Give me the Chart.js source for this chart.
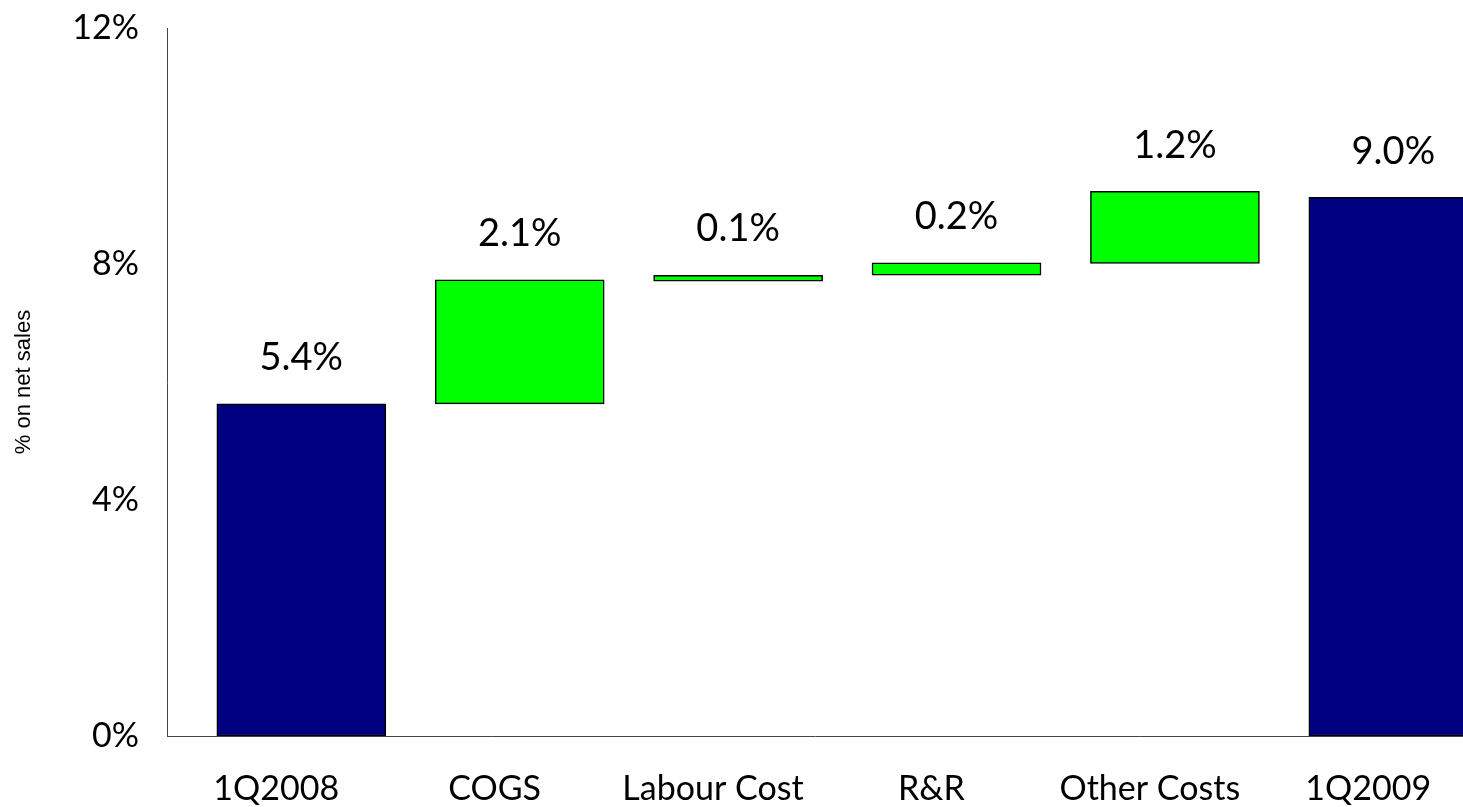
<!DOCTYPE html>
<html><head><meta charset="utf-8">
<script src="https://cdn.jsdelivr.net/npm/chart.js@4/dist/chart.umd.min.js"></script>
<style>html,body{margin:0;padding:0;background:#fff}</style>
</head><body>
<canvas id="c" width="1463" height="807"></canvas>
<script>
const categories = ['1Q2008', 'COGS', 'Labour Cost', 'R&R', 'Other Costs', '1Q2009'];
const barBase = [0, 5.63, 7.71, 7.81, 8.01, 0];
const barTop = [5.63, 7.73, 7.81, 8.02, 9.23, 9.13];
const valueLabels = ['5.4%', '2.1%', '0.1%', '0.2%', '1.2%', '9.0%'];
const barKinds = ['total', 'change', 'change', 'change', 'change', 'total'];
const yTicks = [0, 4, 8, 12];
const yTitle = '% on net sales';

const FONT = 'Lato, "Open Sans", sans-serif';
const BAR_SHIFT = 0.115;
const COLORS = { total: '#000080', change: '#00FF00' };

const labelPlugin = {
  id: 'valueLabels',
  afterDatasetsDraw(chart) {
    const ctx = chart.ctx;
    const meta = chart.getDatasetMeta(0);
    ctx.save();
    ctx.font = '38px ' + FONT;
    ctx.fillStyle = '#000';
    ctx.textAlign = 'center';
    ctx.textBaseline = 'middle';
    meta.data.forEach((el, i) => {
      const top = Math.min(el.y, el.base);
      ctx.fillText(valueLabels[i], el.x, top - 46);
    });
    ctx.restore();
  }
};

new Chart(document.getElementById('c'), {
  type: 'bar',
  data: {
    datasets: [{
      data: categories.map((c, i) => ({ x: i + BAR_SHIFT, y: [barBase[i], barTop[i]] })),
      backgroundColor: barKinds.map(k => COLORS[k]),
      borderColor: '#000',
      borderWidth: 1.5,
      borderSkipped: false,
      barThickness: 169
    }]
  },
  plugins: [labelPlugin],
  options: {
    responsive: false,
    animation: false,
    layout: { padding: { top: 28, left: 0, right: 0, bottom: 0 } },
    plugins: { legend: { display: false }, tooltip: { enabled: false } },
    scales: {
      x: {
        type: 'linear',
        offset: false,
        min: -0.5,
        max: 5.434,
        grid: { display: false, drawTicks: true, tickLength: 33, offset: false },
        border: { display: true, color: '#444', width: 1 },
        afterBuildTicks: s => { s.ticks = categories.map((c, i) => ({ value: i })); },
        afterFit: s => { s.height = 71; },
        ticks: {
          autoSkip: false, maxRotation: 0, minRotation: 0,
          padding: 0,
          color: '#000',
          font: { family: FONT, size: 34 },
          callback: v => categories[v] !== undefined ? categories[v] : ''
        }
      },
      y: {
        min: 0, max: 12,
        grid: { display: false, drawTicks: true, tickLength: 28 },
        border: { display: true, color: '#444', width: 1 },
        afterBuildTicks: s => { s.ticks = yTicks.map(v => ({ value: v })); },
        afterFit: s => { s.width = 167; },
        ticks: {
          padding: 0,
          color: '#000',
          font: { family: FONT, size: 34 },
          callback: v => v + '%'
        },
        title: {
          display: true,
          text: yTitle,
          color: '#000',
          font: { family: '"Liberation Sans", Arial, sans-serif', size: 22 },
          padding: { top: 11, bottom: 4 }
        }
      }
    }
  }
});
</script>
</body></html>
